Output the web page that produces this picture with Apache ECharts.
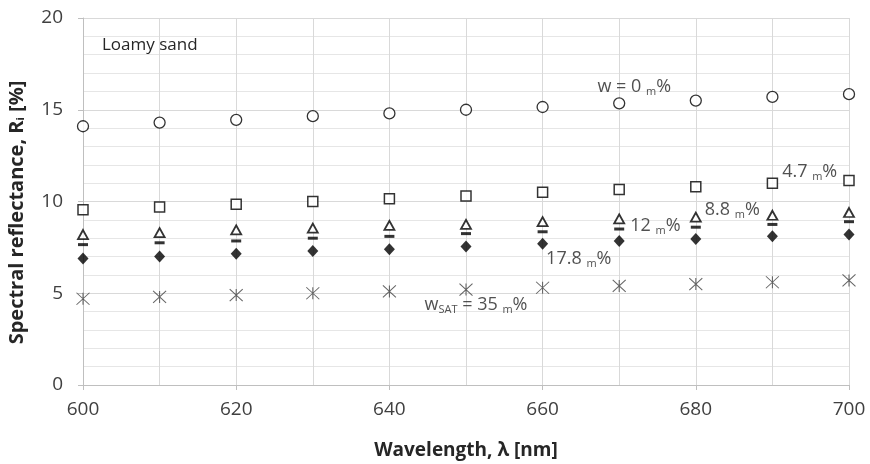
<!DOCTYPE html>
<html>
<head>
<meta charset="utf-8">
<script src="https://cdn.jsdelivr.net/npm/echarts@6/dist/echarts.min.js"></script>
<style>
  html, body { margin: 0; padding: 0; background: #fff; }
  #chart { width: 870px; height: 464px; }
</style>
</head>
<body>
<div id="chart"></div>
<script>
// ====== data ======
const wavelengths = [600, 610, 620, 630, 640, 650, 660, 670, 680, 690, 700];
const w0   = [14.1, 14.3, 14.45, 14.65, 14.8, 15.0, 15.15, 15.35, 15.5, 15.7, 15.85];
const w4_7 = [9.55, 9.7, 9.85, 10.0, 10.15, 10.3, 10.5, 10.65, 10.8, 11.0, 11.15];
const w8_8 = [8.2, 8.3, 8.45, 8.55, 8.7, 8.75, 8.9, 9.05, 9.15, 9.25, 9.4];
const w12  = [7.65, 7.75, 7.85, 8.0, 8.1, 8.25, 8.35, 8.5, 8.6, 8.75, 8.9];
const w17_8 = [6.9, 7.0, 7.15, 7.3, 7.4, 7.55, 7.7, 7.85, 7.95, 8.1, 8.2];
const wSat = [4.7, 4.8, 4.9, 5.0, 5.1, 5.2, 5.3, 5.4, 5.5, 5.6, 5.7];

const FONT = "'Open Sans', sans-serif";
const TXT = "#262626";

// rich styles: normal text + subscript
const rich = {
  a: { fontSize: 18, lineHeight: 18, verticalAlign: "top", color: TXT, fontFamily: FONT },
  s: { fontSize: 11, lineHeight: 28, verticalAlign: "middle", color: TXT, fontFamily: FONT },
};

// build [x, y] points, attaching an annotation label to one point
function points(values, labelIdx, label) {
  return values.map((v, i) => {
    if (i === labelIdx) return { value: [wavelengths[i], v], label: Object.assign({ show: true, rich }, label) };
    return [wavelengths[i], v];
  });
}

const chart = echarts.init(document.getElementById("chart"));

const option = {
  animation: false,
  textStyle: { fontFamily: FONT },
  title: {
    text: "Loamy sand",
    left: 97,
    top: 32,
    textStyle: { fontSize: 17, fontWeight: "normal", color: TXT, fontFamily: FONT },
  },
  grid: { left: 83, right: 21, top: 18, bottom: 79, outerBoundsMode: "none" },
  xAxis: {
    type: "value",
    min: 600,
    max: 700,
    interval: 20,
    name: "Wavelength, λ [nm]",
    nameLocation: "middle",
    nameGap: 56,
    nameTextStyle: { fontSize: 19, fontWeight: "bold", color: TXT, fontFamily: FONT },
    axisLine: { show: true, lineStyle: { color: "#bfbfbf" } },
    axisTick: { show: true, length: 5, lineStyle: { color: "#bfbfbf" } },
    axisLabel: { fontSize: 19, color: "#404040", margin: 15 },
    splitLine: { show: true, lineStyle: { color: "#d9d9d9" } },
    minorTick: { show: false, splitNumber: 2 },
    minorSplitLine: { show: true, lineStyle: { color: "#d9d9d9" } },
  },
  yAxis: {
    type: "value",
    min: 0,
    max: 20,
    interval: 5,
    name: "{b|Spectral reflectance, R}{i|i}{b| [%]}",
    nameLocation: "middle",
    nameGap: 48,
    nameTextStyle: {
      padding: [0, 22, 0, 0],
      rich: {
        b: { fontSize: 20, fontWeight: "bold", color: TXT, fontFamily: FONT, lineHeight: 20, verticalAlign: "top" },
        i: { fontSize: 11, fontWeight: "bold", color: TXT, fontFamily: FONT, lineHeight: 28, verticalAlign: "middle" },
      },
    },
    axisLine: { show: true, lineStyle: { color: "#bfbfbf" } },
    axisTick: { show: true, length: 5, lineStyle: { color: "#bfbfbf" } },
    axisLabel: { fontSize: 19, color: "#404040", margin: 20 },
    splitLine: { show: true, lineStyle: { color: "#d9d9d9" } },
    minorTick: { show: false, splitNumber: 5 },
    minorSplitLine: { show: true, lineStyle: { color: "#e6e6e6" } },
  },
  series: [
    {
      name: "w = 0 m%",
      type: "scatter",
      symbol: "circle",
      symbolSize: 11,
      itemStyle: { color: "#fff", borderColor: "#000", borderWidth: 1.3 },
      data: points(w0, 7, { position: "top", offset: [15, 14], formatter: "{a|w = 0 }{s|m}{a|%}" }),
    },
    {
      name: "4.7 m%",
      type: "scatter",
      symbol: "rect",
      symbolSize: 10,
      itemStyle: { color: "#fff", borderColor: "#000", borderWidth: 1.5 },
      data: points(w4_7, 9, { position: "right", distance: 4, offset: [0, -6], formatter: "{a|4.7 }{s|m}{a|%}" }),
    },
    {
      name: "8.8 m%",
      type: "scatter",
      symbol: "triangle",
      symbolSize: [10, 9],
      itemStyle: { color: "#fff", borderColor: "#000", borderWidth: 1.8 },
      data: points(w8_8, 8, { position: "right", distance: 3, offset: [0, -2], formatter: "{a|8.8 }{s|m}{a|%}" }),
    },
    {
      name: "12 m%",
      type: "scatter",
      symbol: "rect",
      symbolSize: [10, 3],
      itemStyle: { color: "#000" },
      data: points(w12, 7, { position: "right", distance: 6, offset: [0, 2], formatter: "{a|12 }{s|m}{a|%}" }),
    },
    {
      name: "17.8 m%",
      type: "scatter",
      symbol: "diamond",
      symbolSize: [11, 12],
      itemStyle: { color: "#000" },
      data: points(w17_8, 6, { position: "right", distance: 0, offset: [-2, 20], formatter: "{a|17.8 }{s|m}{a|%}" }),
    },
    {
      name: "wSAT = 35 m%",
      type: "scatter",
      symbol: "path://M0,0 L12,12 M12,0 L0,12 M6,0 L6,12",
      symbolSize: [13, 12],
      itemStyle: { color: "none", borderColor: "#404040", borderWidth: 1 },
      data: points(wSat, 5, { position: "bottom", distance: 2, offset: [10, -4], formatter: "{a|w}{s|SAT}{a| = 35 }{s|m}{a|%}" }),
    },
  ],
};

chart.setOption(option);
</script>
</body>
</html>
